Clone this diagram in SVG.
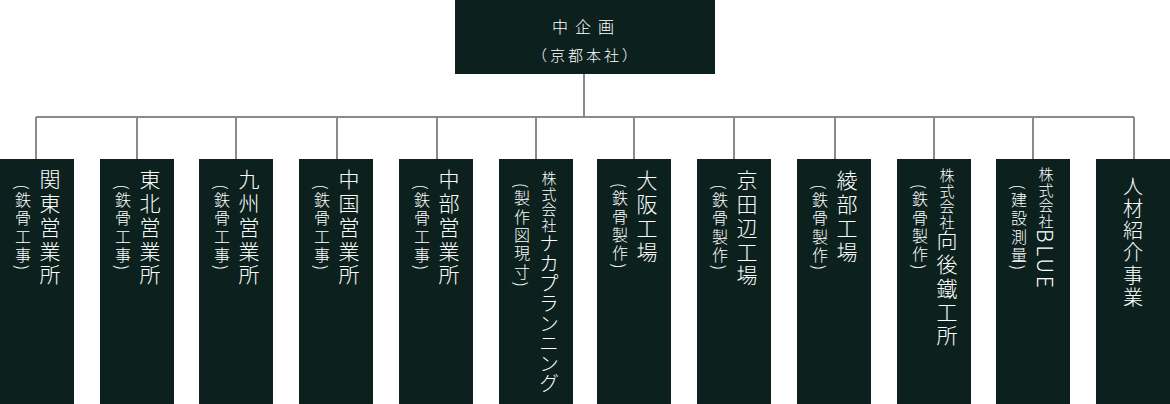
<svg xmlns="http://www.w3.org/2000/svg" width="1170" height="404" viewBox="0 0 1170 404">
<style>
.box{fill:#0c211d}
.t{fill:#ffffff;font-family:"Noto Sans CJK JP","Noto Sans CJK SC",sans-serif;font-weight:300}
.v{writing-mode:vertical-rl}
.main{font-size:21px;letter-spacing:2.7px}
.sub{font-size:16px;letter-spacing:2.3px}
.pre{font-size:15px;letter-spacing:0.6px}
.conn{fill:none;stroke:#8a8a8a;stroke-width:2}
</style>
<rect width="1170" height="404" fill="#ffffff"/>
<g id="connectors" class="conn">
<path d="M584 74V117M36 117H1134M36 117V159M137 117V159M236 117V159M337 117V159M437 117V159M536 117V159M634 117V159M734 117V159M835 117V159M934 117V159M1033 117V159M1134 117V159"/>
</g>
<g id="head">
<rect class="box" x="455" y="0" width="260" height="74"/>
<text class="t" x="586.5" y="33" font-size="16" letter-spacing="7" text-anchor="middle">中企画</text>
<text class="t" x="586" y="61" font-size="15" letter-spacing="3" text-anchor="middle">（京都本社）</text>
</g>
<g id="kanto">
<rect class="box" x="0" y="159" width="74" height="245"/>
<text class="t v main" x="50" y="169">関東営業所</text>
<text class="t v sub" x="23" y="184.5">(鉄骨工事)</text>
</g>
<g id="tohoku">
<rect class="box" x="100" y="159" width="74" height="245"/>
<text class="t v main" x="150" y="169">東北営業所</text>
<text class="t v sub" x="123" y="184.5">(鉄骨工事)</text>
</g>
<g id="kyushu">
<rect class="box" x="199" y="159" width="74" height="245"/>
<text class="t v main" x="249" y="169">九州営業所</text>
<text class="t v sub" x="222" y="184.5">(鉄骨工事)</text>
</g>
<g id="chugoku">
<rect class="box" x="299" y="159" width="74" height="245"/>
<text class="t v main" x="349" y="169">中国営業所</text>
<text class="t v sub" x="322" y="184.5">(鉄骨工事)</text>
</g>
<g id="chubu">
<rect class="box" x="399" y="159" width="74" height="245"/>
<text class="t v main" x="449" y="169">中部営業所</text>
<text class="t v sub" x="422" y="184.5">(鉄骨工事)</text>
</g>
<g id="nakaplanning">
<rect class="box" x="499" y="159" width="74" height="245"/>
<text class="t v" x="549" y="171"><tspan class="pre">株式会社</tspan><tspan font-size="20">ナカプランニング</tspan></text>
<text class="t v sub" x="522" y="183">(製作図現寸)</text>
</g>
<g id="osaka">
<rect class="box" x="597" y="159" width="74" height="245"/>
<text class="t v main" x="647" y="170">大阪工場</text>
<text class="t v sub" x="620" y="183">(鉄骨製作)</text>
</g>
<g id="kyotanabe">
<rect class="box" x="697" y="159" width="74" height="245"/>
<text class="t v main" x="747" y="170">京田辺工場</text>
<text class="t v sub" x="720" y="184.5">(鉄骨製作)</text>
</g>
<g id="ayabe">
<rect class="box" x="797" y="159" width="74" height="245"/>
<text class="t v main" x="847" y="170">綾部工場</text>
<text class="t v sub" x="820" y="184.5">(鉄骨製作)</text>
</g>
<g id="kogo">
<rect class="box" x="897" y="159" width="74" height="245"/>
<text class="t v" x="947" y="168"><tspan class="pre">株式会社</tspan><tspan class="main">向後鐵工所</tspan></text>
<text class="t v sub" x="920" y="184">(鉄骨製作)</text>
</g>
<g id="blue">
<rect class="box" x="996" y="159" width="74" height="245"/>
<text class="t v" x="1046" y="167"><tspan class="pre">株式会社</tspan><tspan class="main">BLUE</tspan></text>
<text class="t v sub" x="1019" y="184.5">(建設測量)</text>
</g>
<g id="jinzai">
<rect class="box" x="1096" y="159" width="74" height="245"/>
<text class="t v" x="1133" y="176" font-size="20" letter-spacing="2.3">人材紹介事業</text>
</g>
</svg>
